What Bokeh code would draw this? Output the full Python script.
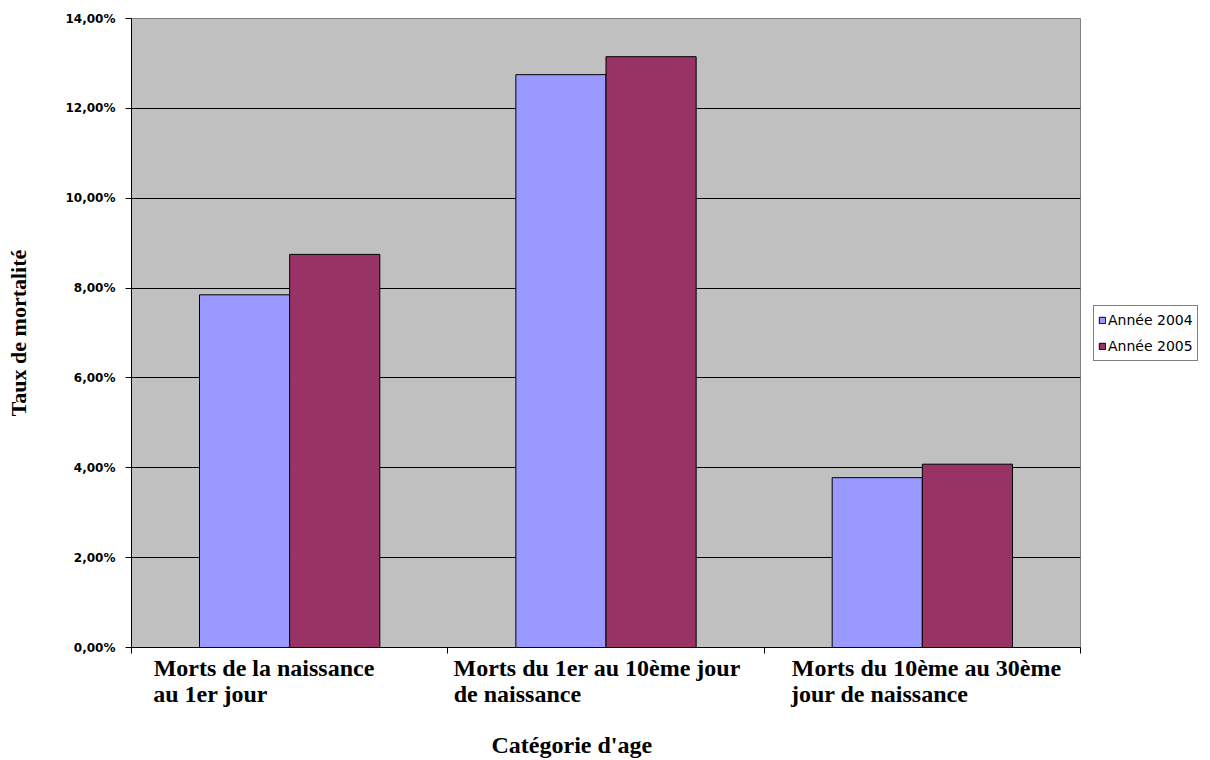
from bokeh.plotting import figure
from bokeh.models import (Range1d, FixedTicker, Legend, LegendItem, LinearAxis,
                          ColumnDataSource, Title, CustomLabelingPolicy)
from bokeh.embed import file_html
from bokeh.resources import INLINE

# ---- data -------------------------------------------------------------
category_lines = [
    ["Morts de la naissance", "au 1er jour"],
    ["Morts du 1er au 10ème jour", "de naissance"],
    ["Morts du 10ème au 30ème", "jour de naissance"],
]
series_names = ["Année 2004", "Année 2005"]
values_2004 = [7.85, 12.75, 3.78]
values_2005 = [8.75, 13.15, 4.08]
y_ticks = [0, 2, 4, 6, 8, 10, 12, 14]
y_tick_labels = ["0,00%", "2,00%", "4,00%", "6,00%", "8,00%", "10,00%", "12,00%", "14,00%"]
y_title = "Taux de mortalité"
x_title = "Catégorie d'age"

# ---- layout constants -------------------------------------------------
colors = ["#9999FF", "#993366"]
bar_width = 0.285
# horizontal centre (x units) of each caption line, so that both lines of a
# caption start at the same left edge
line_centers = [[0.419, 1.472, 2.513],
                [0.250, 1.220, 2.365]]
serif = "Liberation Serif"

p = figure(frame_width=949, frame_height=629,
           min_border_left=131, min_border_right=130,
           min_border_top=18, min_border_bottom=113,
           x_range=Range1d(0, 3), y_range=Range1d(0, 14),
           output_backend="svg", toolbar_location=None,
           background_fill_color="#C0C0C0", border_fill_color="white",
           outline_line_color="#808080", outline_line_width=1)

# grid: black horizontal lines only
p.xgrid.visible = False
p.ygrid.ticker = FixedTicker(ticks=y_ticks[1:-1])
p.ygrid.grid_line_color = "black"
p.ygrid.grid_line_width = 1

# bars
centers = [i + 0.5 for i in range(len(values_2004))]
renderers = []
for k, vals in enumerate([values_2004, values_2005]):
    offset = (k - 0.5) * bar_width
    src = ColumnDataSource(dict(x=[c + offset for c in centers], top=vals))
    r = p.vbar(x="x", top="top", bottom=0, width=bar_width, source=src,
               fill_color=colors[k], line_color="black", line_width=1)
    renderers.append(r)

# y axis
yax = p.yaxis[0]
yax.ticker = FixedTicker(ticks=y_ticks)
yax.major_label_overrides = {t: s for t, s in zip(y_ticks, y_tick_labels)}
yax.major_label_text_font = "DejaVu Sans"
yax.major_label_text_font_style = "bold"
yax.major_label_text_font_size = "12px"
yax.major_label_text_color = "black"
yax.major_label_standoff = 10
yax.major_tick_in = 0
yax.major_tick_out = 6
yax.minor_tick_line_color = None
yax.axis_line_color = "black"
yax.major_tick_line_color = "black"
yax.axis_label = y_title
yax.axis_label_text_font = serif
yax.axis_label_text_font_style = "bold"
yax.axis_label_text_font_size = "22px"
yax.axis_label_text_color = "black"
yax.axis_label_standoff = 32

# x axis: tick marks at the category boundaries, labels suppressed
xax = p.xaxis[0]
xax.ticker = FixedTicker(ticks=[0, 1, 2, 3])
xax.major_label_policy = CustomLabelingPolicy(
    code="for (const i of indices) indices.unset(i)\nreturn indices")
xax.major_label_text_font_size = "1px"
xax.major_label_standoff = 0
xax.major_tick_in = 0
xax.major_tick_out = 6
xax.minor_tick_line_color = None
xax.axis_line_color = "black"
xax.major_tick_line_color = "black"

# one extra axis per caption line
standoffs = [-3, -3]
for row in range(2):
    ticks = line_centers[row]
    cap = LinearAxis(ticker=FixedTicker(ticks=ticks),
                     major_label_overrides={x: lines[row]
                                            for x, lines in zip(ticks, category_lines)},
                     major_label_text_font=serif,
                     major_label_text_font_style="bold",
                     major_label_text_font_size="24px",
                     major_label_text_color="black",
                     major_label_standoff=standoffs[row],
                     major_tick_in=0, major_tick_out=0,
                     major_tick_line_color=None, minor_tick_line_color=None,
                     axis_line_color=None)
    p.add_layout(cap, "below")

# axis title below the captions
p.add_layout(Title(text=x_title, align="left", offset=360, standoff=40,
                   vertical_align="bottom",
                   text_font=serif, text_font_style="bold",
                   text_font_size="24px", text_color="black"), "below")

# legend to the right of the plot area
legend = Legend(items=[LegendItem(label=n, renderers=[r])
                       for n, r in zip(series_names, renderers)],
                location="center_left", orientation="vertical",
                glyph_width=8, glyph_height=8, label_standoff=2,
                label_height=20, spacing=6, padding=4, margin=13,
                label_text_font="DejaVu Sans", label_text_font_size="14px",
                label_text_color="black",
                border_line_color="black", border_line_width=1,
                background_fill_color="white", background_fill_alpha=1)
p.add_layout(legend, "right")

open("out.html", "w").write(file_html(p, INLINE))
